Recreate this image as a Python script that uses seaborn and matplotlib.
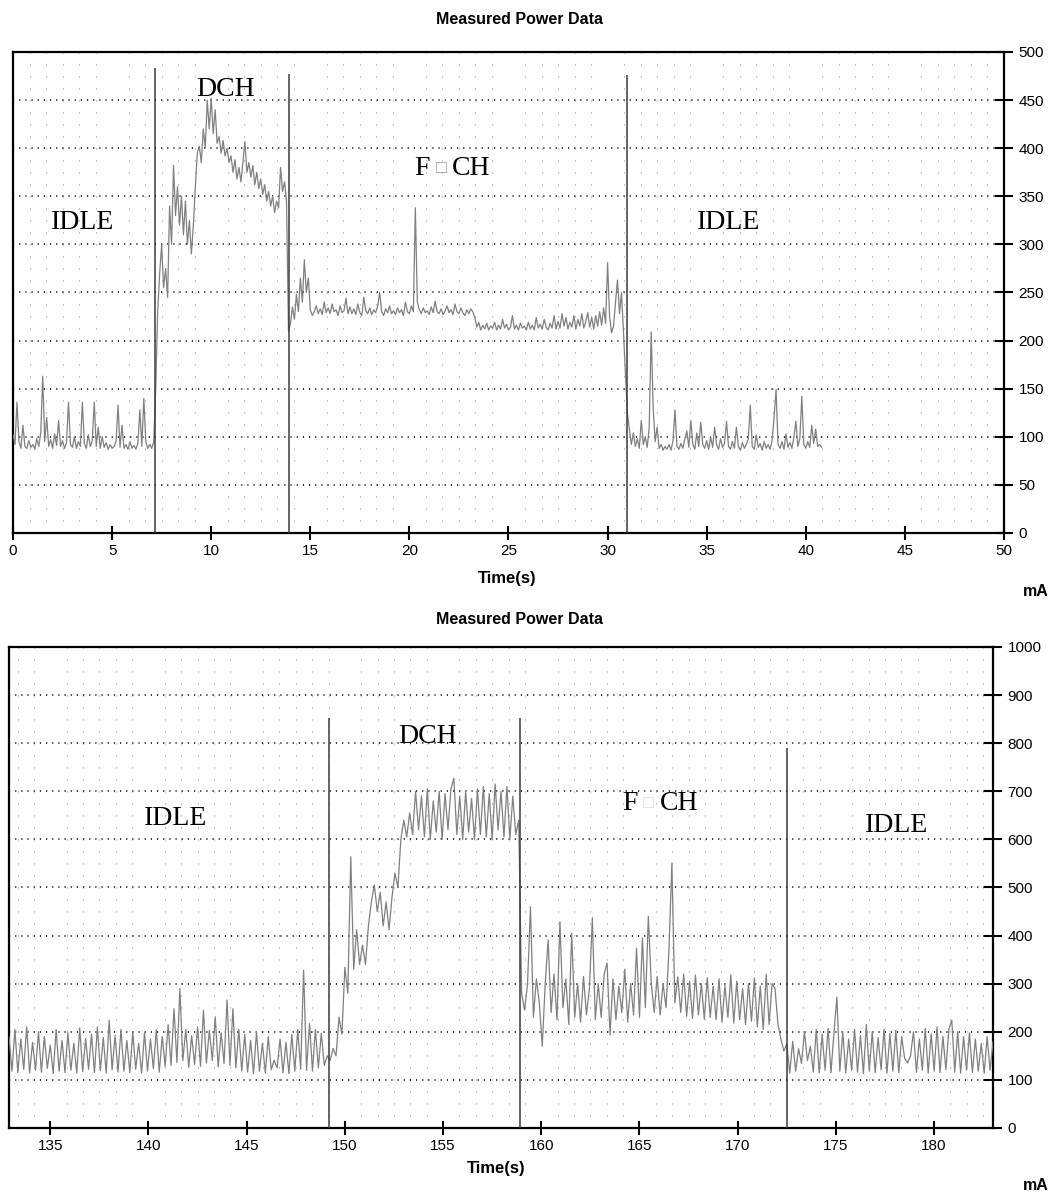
import numpy as np
import pandas as pd
import matplotlib
matplotlib.use("Agg")
import matplotlib.pyplot as plt
import seaborn as sns
from matplotlib.ticker import MultipleLocator, AutoMinorLocator

sns.set_style("white")
plt.rcParams["font.family"] = ["Liberation Sans", "DejaVu Sans"]
plt.rcParams["text.color"] = "black"
plt.rcParams["axes.labelcolor"] = "black"
plt.rcParams["xtick.color"] = "black"
plt.rcParams["ytick.color"] = "black"

# ---------------- data ----------------
# Top chart: samples every 0.1 s starting at 0 s
top_start, top_step = 0.0, 0.1
top_mA = [
    102, 92, 136, 95, 88, 112, 90, 88, 96, 89,
    92, 87, 98, 90, 104, 163, 95, 120, 90, 97,
    88, 103, 91, 117, 90, 96, 88, 94, 136, 92,
    89, 100, 88, 95, 90, 136, 93, 88, 102, 90,
    96, 136, 90, 110, 88, 100, 89, 94, 87, 92,
    88, 90, 95, 133, 89, 112, 88, 92, 87, 95,
    88, 91, 87, 93, 128, 90, 140, 95, 88, 92,
    88, 95, 150, 230, 270, 300, 255, 275, 245, 340,
    300, 382, 330, 360, 320, 350, 310, 345, 300, 325,
    290, 320, 360, 395, 402, 385, 420, 400, 450, 420,
    452, 415, 440, 405, 412, 395, 408, 392, 400, 385,
    392, 375, 388, 368, 380, 365, 385, 407, 375, 385,
    370, 382, 362, 375, 358, 368, 352, 362, 345, 355,
    340, 350, 333, 345, 338, 380, 355, 365, 345, 210,
    218, 235, 222, 248, 230, 265, 240, 284, 250, 265,
    232, 226, 230, 236, 228, 233, 227, 240, 229, 234,
    228, 238, 230, 232, 226, 236, 229, 231, 244, 228,
    235, 228, 233, 227, 238, 229, 226, 245, 231, 228,
    234, 227, 232, 229, 236, 250, 230, 226, 233, 229,
    236, 228, 231, 227, 234, 229, 232, 226, 240, 230,
    228, 236, 230, 338, 240, 232, 228, 234, 229, 231,
    227, 235, 229, 241, 230, 228, 233, 227, 231, 236,
    229, 232, 227, 238, 230, 228, 234, 229, 226, 232,
    228, 233, 230, 224, 214, 219, 211, 216, 212, 218,
    211, 215, 213, 219, 211, 216, 212, 222, 213, 217,
    211, 214, 226, 212, 216, 211, 218, 213, 215, 211,
    219, 212, 216, 211, 224, 213, 217, 212, 222, 214,
    211, 218, 213, 226, 212, 220, 213, 228, 215, 224,
    212, 219, 214, 226, 212, 222, 215, 228, 213, 220,
    229, 214, 224, 212, 226, 215, 230, 216, 234, 218,
    281, 225, 208, 215, 240, 263, 228, 250, 210, 165,
    125, 108, 92, 104, 90, 98, 88, 117, 92, 100,
    89, 110, 209, 130, 95, 110, 88, 92, 86, 90,
    87, 92, 86, 96, 128, 90, 87, 93, 88, 98,
    106, 89, 117, 92, 87, 104, 90, 115, 92, 88,
    96, 87, 100, 89, 110, 92, 87, 98, 89, 93,
    116, 90, 87, 95, 88, 110, 90, 86, 94, 88,
    92, 98, 133, 90, 87, 102, 89, 93, 86, 95,
    88, 92, 87, 96, 120, 149, 92, 88, 95, 87,
    103, 89, 94, 88, 100, 116, 90, 98, 142, 92,
    88, 95, 89, 112, 93, 108, 90, 92, 89,
]

# Bottom chart: samples every 0.15 s starting at 132.9 s
bot_start, bot_step = 132.9, 0.15
bot_mA = [
    190, 118, 205, 115, 185, 122, 210, 114, 178, 120, 200, 116, 190, 124, 172, 113, 205, 118, 182, 115,
    198, 120, 176, 114, 208, 117, 186, 122, 195, 115, 210, 119, 188, 114, 224, 121, 192, 116, 205, 118,
    182, 115, 200, 122, 176, 114, 198, 118, 185, 123, 204, 116, 190, 128, 215, 130, 248, 136, 290, 140,
    205, 126, 192, 132, 210, 128, 245, 135, 203, 140, 231, 127, 198, 134, 266, 130, 248, 125, 205, 118,
    195, 116, 182, 113, 200, 118, 176, 114, 190, 121, 141, 125, 185, 115, 178, 113, 195, 118, 205, 122,
    328, 120, 217, 118, 205, 125, 197, 130, 150, 140, 165, 150, 230, 195, 334, 280, 564, 330, 412, 340,
    380, 340, 420, 470, 505, 450, 490, 420, 470, 412, 480, 530, 500, 600, 640, 605, 655, 610, 700, 620,
    690, 605, 705, 600, 680, 615, 700, 600, 695, 620, 705, 727, 610, 690, 600, 700, 615, 685, 600, 705,
    610, 710, 605, 695, 600, 715, 620, 700, 605, 710, 600, 690, 610, 640, 280, 245, 300, 460, 230, 310,
    260, 170, 300, 391, 240, 320, 225, 429, 250, 310, 215, 405, 230, 300, 220, 315, 235, 290, 437, 225,
    300, 230, 320, 343, 193, 310, 225, 295, 240, 330, 220, 300, 235, 374, 230, 395, 250, 440, 300, 240,
    315, 235, 300, 250, 370, 551, 260, 314, 240, 320, 232, 305, 228, 318, 235, 300, 226, 312, 230, 295,
    225, 310, 220, 296, 230, 318, 218, 305, 225, 290, 215, 300, 222, 312, 210, 295, 205, 320, 215, 300,
    290, 215, 185, 160, 175, 114, 180, 118, 165, 134, 200, 140, 170, 116, 205, 114, 195, 120, 207, 115,
    198, 272, 118, 200, 114, 185, 120, 205, 116, 192, 113, 215, 118, 200, 115, 188, 121, 205, 114, 196,
    118, 203, 115, 190, 145, 135, 150, 200, 116, 185, 120, 207, 114, 196, 118, 210, 115, 190, 121, 205,
    224, 116, 200, 114, 190, 120, 198, 115, 185, 118, 176, 114, 190, 120, 180,
]

# phase boundaries (time, height of the marker line in mA)
top_phase_time = [7.15, 13.93, 30.96]
top_phase_height = [483, 477, 476]
bot_phase_time = [149.2, 158.9, 172.5]
bot_phase_height = [852, 852, 790]

top_xticks = list(range(0, 51, 5))
top_yticks = list(range(0, 501, 50))
bot_xticks = list(range(135, 181, 5))
bot_yticks = list(range(0, 1001, 100))

phase_names = ["IDLE", "DCH", "FACH", "IDLE"]
top_label_pos = [(3.5, 323), (10.7, 461), (21.6, 379), (36.1, 323)]
bot_label_pos = [(141.4, 644), (154.2, 813), (165.45, 674), (178.1, 628)]

# ---------------- figure ----------------
fig = plt.figure(figsize=(10.53, 11.95), dpi=100)
ax1 = fig.add_axes([0.01235, 0.5540, 0.9411, 0.4025])
ax2 = fig.add_axes([0.00855, 0.0561, 0.9345, 0.4025])

LINE_COLOR = "#808080"
SERIF = ["Liberation Serif", "DejaVu Serif"]


def draw(ax, start, step, values, xlim, ylim, xticks, yticks, minor_y,
         phase_t, phase_h, label_pos, box_color):
    t = start + step * np.arange(len(values))
    df = pd.DataFrame({"time": t, "mA": values})
    sns.lineplot(data=df, x="time", y="mA", ax=ax, color=LINE_COLOR,
                 linewidth=0.9, estimator=None, sort=False, zorder=3)
    ax.vlines(phase_t, 0, phase_h, colors="#3a3a3a", linewidth=1.1, zorder=4)

    ax.set_xlim(*xlim)
    ax.set_ylim(*ylim)
    ax.set_xticks(xticks)
    ax.set_yticks(yticks)
    ax.xaxis.set_minor_locator(AutoMinorLocator(6))
    ax.yaxis.set_minor_locator(MultipleLocator(minor_y))
    ax.yaxis.tick_right()
    ax.set_xlabel("")
    ax.set_ylabel("")

    ax.set_axisbelow(True)
    ax.grid(which="major", axis="y", color="#111111", linewidth=1.2,
            linestyle=(0, (0.7, 3.0)))
    ax.grid(which="minor", axis="x", color="#9a9a9a", linewidth=0.8,
            linestyle=(0, (1.0, 9.8)))
    ax.grid(which="major", axis="x", visible=False)

    for sp in ax.spines.values():
        sp.set_visible(True)
        sp.set_color("black")
        sp.set_linewidth(1.6)

    ax.tick_params(axis="x", which="major", direction="inout", length=10,
                   width=1.5, labelsize=11, pad=3, colors="black",
                   bottom=True, top=False)
    ax.tick_params(axis="y", which="major", direction="inout", length=13,
                   width=1.5, labelsize=11, pad=4, colors="black",
                   right=True, left=False, labelright=True, labelleft=False)
    ax.tick_params(which="minor", length=0)

    for name, (x, y) in zip(phase_names, label_pos):
        if name == "FACH":
            ax.annotate("F", (x, y), xytext=(-8, 0), textcoords="offset points",
                        ha="right", va="center", fontsize=20, family=SERIF,
                        color="black")
            ax.annotate("\u25a1", (x, y), ha="center", va="center",
                        fontsize=13, family=SERIF, color=box_color)
            ax.annotate("CH", (x, y), xytext=(8, 0), textcoords="offset points",
                        ha="left", va="center", fontsize=20, family=SERIF,
                        color="black")
        else:
            ax.text(x, y, name, ha="center", va="center", fontsize=20,
                    family=SERIF, color="black")


draw(ax1, top_start, top_step, top_mA, (0, 50), (0, 500), top_xticks,
     top_yticks, 12.5, top_phase_time, top_phase_height, top_label_pos, "#999999")
draw(ax2, bot_start, bot_step, bot_mA, (132.9, 183.0), (0, 1000), bot_xticks,
     bot_yticks, 25, bot_phase_time, bot_phase_height, bot_label_pos, "#dddddd")

W, H = 1053, 1195


def ftext(px, py, s, **kw):
    fig.text(px / W, 1 - py / H, s, ha="center", va="center",
             fontweight="bold", color="black", **kw)


ftext(520, 20, "Measured Power Data", fontsize=11.5)
ftext(507, 578, "Time(s)", fontsize=12)
ftext(1036, 592, "mA", fontsize=11.5)
ftext(520, 620, "Measured Power Data", fontsize=11.5)
ftext(496, 1169, "Time(s)", fontsize=12)
ftext(1036, 1185, "mA", fontsize=11.5)

fig.savefig("out.png", dpi=100)
